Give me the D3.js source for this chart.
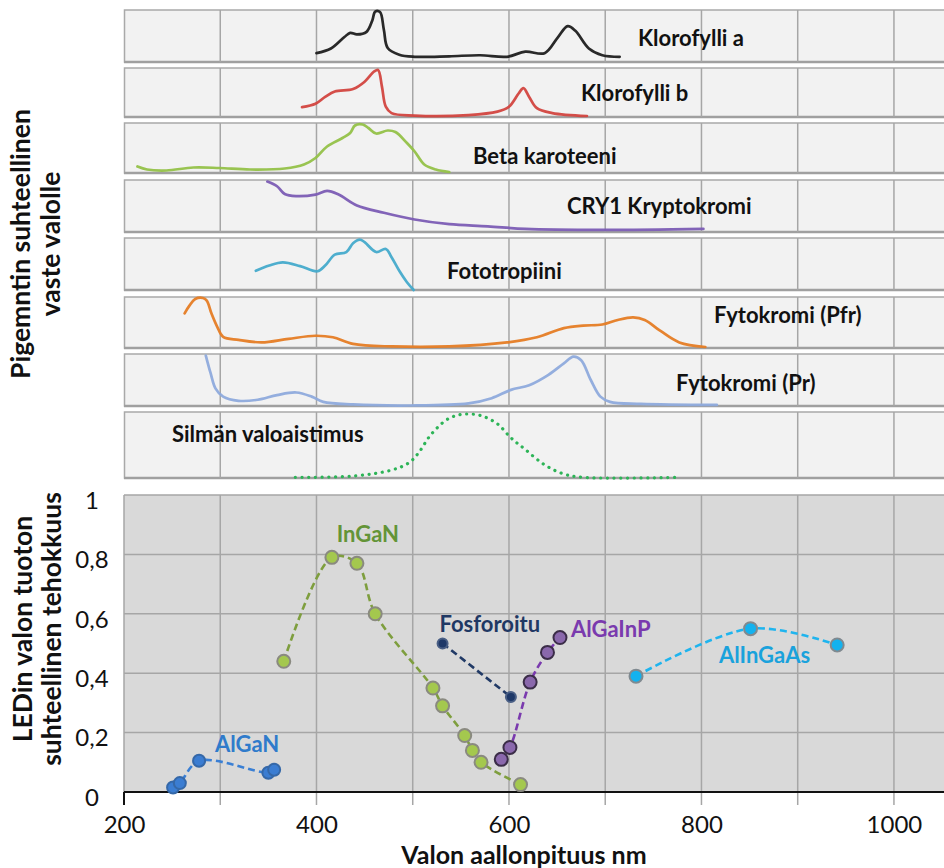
<!DOCTYPE html>
<html>
<head>
<meta charset="utf-8">
<script src="https://cdn.jsdelivr.net/npm/d3@7"></script>
<style>
  body { margin: 0; background: #fff; }
  svg { display: block; font-family: Lato, "Open Sans", sans-serif; }
</style>
</head>
<body>
<svg id="chart" width="944" height="868"></svg>
<script>
// ---- Pigment response spectra: [wavelength nm, relative response 0..1] ----
const klorofylliA = [[400,0.17],[415,0.26],[429,0.48],[435,0.56],[442,0.53],[452,0.58],[458,0.8],[461,0.97],[466,0.96],[470,0.62],[474,0.27],[486,0.14],[502,0.1],[538,0.11],[570,0.13],[598,0.1],[617,0.2],[637,0.17],[651,0.48],[661,0.69],[669,0.6],[683,0.26],[697,0.13],[715,0.1]];
const klorofylliB = [[385,0.2],[399,0.27],[409,0.41],[419,0.52],[438,0.57],[450,0.72],[460,0.93],[464,0.96],[468,0.62],[472,0.21],[478,0.08],[502,0.03],[558,0.04],[588,0.11],[600,0.21],[610,0.48],[615,0.59],[621,0.41],[629,0.18],[645,0.08],[681,0.02]];
const betaKaroteeni = [[214,0.13],[224,0.07],[244,0.05],[272,0.11],[299,0.1],[331,0.07],[367,0.09],[387,0.17],[399,0.3],[411,0.53],[427,0.7],[435,0.8],[440,0.95],[448,0.97],[454,0.9],[462,0.79],[474,0.85],[482,0.82],[494,0.6],[502,0.43],[512,0.17],[524,0.07],[538,0.02]];
const cry1 = [[349,0.97],[359,0.88],[367,0.73],[379,0.69],[399,0.72],[411,0.79],[423,0.72],[442,0.51],[470,0.37],[502,0.24],[538,0.15],[578,0.11],[617,0.06],[697,0.04],[802,0.06]];
const fototropiini = [[337,0.37],[351,0.47],[365,0.53],[383,0.46],[401,0.36],[409,0.47],[419,0.68],[431,0.73],[438,0.9],[445,0.97],[450,0.92],[462,0.73],[472,0.79],[478,0.63],[486,0.37],[494,0.15],[501,0.0]];
const fytokromiPfr = [[263,0.68],[268,0.83],[274,0.96],[282,0.98],[286,0.93],[291,0.67],[297,0.41],[303,0.22],[319,0.16],[343,0.11],[371,0.18],[399,0.24],[417,0.21],[438,0.08],[478,0.03],[538,0.03],[598,0.11],[629,0.21],[657,0.39],[677,0.44],[697,0.46],[713,0.55],[729,0.6],[741,0.55],[757,0.34],[777,0.11],[804,0.02]];
const fytokromiPr = [[285,0.97],[290,0.63],[295,0.34],[303,0.18],[319,0.1],[339,0.12],[359,0.21],[379,0.26],[395,0.18],[407,0.08],[438,0.03],[498,0.01],[558,0.05],[582,0.15],[602,0.31],[621,0.4],[641,0.6],[657,0.82],[667,0.95],[675,0.88],[685,0.5],[695,0.18],[705,0.08],[737,0.04],[816,0.02]];
const silmanValoaistimus = [[378,0.01],[438,0.03],[478,0.12],[496,0.23],[506,0.38],[518,0.64],[534,0.87],[546,0.95],[558,0.97],[572,0.94],[588,0.82],[602,0.61],[617,0.43],[637,0.2],[657,0.06],[677,0.01],[778,0.01]];

const pigmentNames = ["Klorofylli a","Klorofylli b","Beta karoteeni","CRY1 Kryptokromi","Fototropiini","Fytokromi (Pfr)","Fytokromi (Pr)","Silmän valoaistimus"];
const pigmentSpectra = [klorofylliA, klorofylliB, betaKaroteeni, cry1, fototropiini, fytokromiPfr, fytokromiPr, silmanValoaistimus];

// ---- LED relative efficiency: [wavelength nm, efficiency] ----
const ledAlGaN = [[251,0.015],[258,0.03],[278,0.105],[350,0.065],[356,0.075]];
const ledInGaN = [[366,0.44],[416,0.79],[442,0.77],[461,0.60],[521,0.35],[531,0.29],[554,0.19],[562,0.14],[571,0.10],[612,0.025]];
const ledFosforoitu = [[531,0.50],[602,0.32]];
const ledAlGaInP = [[592,0.11],[601,0.15],[622,0.37],[640,0.47],[653,0.52]];
const ledAlInGaAs = [[732,0.39],[851,0.55],[941,0.495]];

const ledNames = ["AlGaN","InGaN","Fosforoitu","AlGaInP","AlInGaAs"];
const ledSeries = [ledAlGaN, ledInGaN, ledFosforoitu, ledAlGaInP, ledAlInGaAs];

// ---- Axis ticks ----
const xTickLabels = [200, 400, 600, 800, 1000];
const gridWavelengths = [300, 400, 500, 600, 700, 800, 900, 1000];
const yTickValues = [0, 0.2, 0.4, 0.6, 0.8, 1];

// ---- Styling and layout ----
const pigmentStyles = [
  { color: "#1e1e1e" },
  { color: "#d2443f" },
  { color: "#93c148" },
  { color: "#7b5cb4" },
  { color: "#44aacb" },
  { color: "#e57c24" },
  { color: "#8eaadc" },
  { color: "#2db457", dotted: true }
];
// strip bands [top, bottom] and label [x px, baseline offset from top]
const stripBands = [[10,62],[68,117],[123,173],[180,232],[238,290],[297,348],[354,406],[412,478]];
const pigmentLabelPos = [[638,36],[581,33],[473,41],[567,34],[447,41],[714,26],[676,37],[172,30]];

const ledStyles = [
  { line: "#3a7fd4", fill: "#3b7dd2", stroke: "#3568a8", label: "#2f7bcb", r: 6 },
  { line: "#7e9e3e", fill: "#a4c84e", stroke: "#8a8a80", label: "#639437", r: 6.5 },
  { line: "#213a66", fill: "#1e3868", stroke: "#4a5f85", label: "#1f3864", r: 5 },
  { line: "#7a3aae", fill: "#8a68ac", stroke: "#3b2d48", label: "#7a3aae", r: 6.5 },
  { line: "#1fb4ee", fill: "#13b2ef", stroke: "#808a90", label: "#1aa2dc", r: 6.5 }
];
// label anchors in data units [nm, efficiency] (text start, baseline)
const ledLabelPos = [[294.5,0.134],[421,0.841],[527.8,0.539],[664.4,0.522],[818.2,0.435]];

const svg = d3.select("#chart");
const W = 944;
const plotLeft = 124;
const x = d3.scaleLinear().domain([200, 1052]).range([plotLeft, W]);

// ---------- Upper strips: pigment spectra ----------
const strips = svg.append("g");
stripBands.forEach(([top, bottom], i) => {
  const g = strips.append("g");
  g.append("rect")
    .attr("x", plotLeft + 0.5).attr("y", top)
    .attr("width", W - plotLeft + 5).attr("height", bottom - top)
    .attr("fill", "#f2f2f2").attr("stroke", "#a9a9a9").attr("stroke-width", 1.5);
  g.append("line")
    .attr("x1", plotLeft).attr("x2", W).attr("y1", bottom).attr("y2", bottom)
    .attr("stroke", "#a0a0a0").attr("stroke-width", 2.5);
  g.selectAll("line.v").data(gridWavelengths).join("line")
    .attr("class", "v")
    .attr("x1", d => x(d)).attr("x2", d => x(d))
    .attr("y1", top).attr("y2", bottom)
    .attr("stroke", "#a6a6a6").attr("stroke-width", 1.5);

  const y = d3.scaleLinear().domain([0, 1]).range([bottom, top]);
  const st = pigmentStyles[i];
  const line = d3.line().x(d => x(d[0])).y(d => y(d[1])).curve(d3.curveCatmullRom.alpha(0.5));
  const path = g.append("path")
    .datum(pigmentSpectra[i])
    .attr("d", line)
    .attr("fill", "none")
    .attr("stroke", st.color)
    .attr("stroke-linejoin", "round");
  if (st.dotted) {
    path.attr("stroke-width", 3.2).attr("stroke-dasharray", "0.1,6.6").attr("stroke-linecap", "round");
  } else {
    path.attr("stroke-width", 2.7).attr("stroke-linecap", "round").attr("opacity", 0.95);
  }

  g.append("text")
    .attr("x", pigmentLabelPos[i][0])
    .attr("y", top + pigmentLabelPos[i][1])
    .attr("font-size", 22).attr("font-weight", 700).attr("fill", "#111")
    .text(pigmentNames[i]);
});

// ---------- Lower plot: LED efficiency ----------
const yL = d3.scaleLinear().domain([0, 1]).range([792, 495]);
const lower = svg.append("g");
lower.append("rect")
  .attr("x", plotLeft).attr("y", yL(1))
  .attr("width", W - plotLeft).attr("height", yL(0) - yL(1))
  .attr("fill", "#d9d9d9");
lower.selectAll("line.h").data(yTickValues.filter(v => v > 0)).join("line")
  .attr("class", "h")
  .attr("x1", plotLeft).attr("x2", W)
  .attr("y1", d => yL(d)).attr("y2", d => yL(d))
  .attr("stroke", "#a6a6a6").attr("stroke-width", 1.5);
lower.selectAll("line.v").data(gridWavelengths).join("line")
  .attr("class", "v")
  .attr("x1", d => x(d)).attr("x2", d => x(d))
  .attr("y1", yL(1)).attr("y2", yL(0) + 13)
  .attr("stroke", "#a6a6a6").attr("stroke-width", 1.5);
lower.append("line")
  .attr("x1", plotLeft).attr("x2", plotLeft).attr("y1", yL(1)).attr("y2", yL(0))
  .attr("stroke", "#a6a6a6").attr("stroke-width", 1.5);
lower.append("line")
  .attr("x1", plotLeft).attr("x2", W).attr("y1", yL(0)).attr("y2", yL(0))
  .attr("stroke", "#111").attr("stroke-width", 2.2);
lower.append("line")
  .attr("x1", plotLeft).attr("x2", plotLeft).attr("y1", yL(0)).attr("y2", yL(0) + 13)
  .attr("stroke", "#111").attr("stroke-width", 2);

// axes (labels only)
const commaFmt = d3.formatLocale({ decimal: ",", thousands: " ", grouping: [3], currency: ["", ""] }).format("~g");
const xAxis = lower.append("g")
  .attr("transform", `translate(0,${yL(0)})`)
  .call(d3.axisBottom(x).tickValues(xTickLabels).tickSize(0).tickPadding(24).tickFormat(d3.format("d")));
xAxis.select(".domain").remove();
xAxis.selectAll("text").attr("font-size", 24).attr("fill", "#111").attr("font-family", "Lato, sans-serif");

const yAxis = lower.append("g")
  .attr("transform", `translate(${plotLeft},0)`)
  .call(d3.axisLeft(yL).tickValues(yTickValues).tickSize(0).tickFormat(commaFmt));
yAxis.select(".domain").remove();
yAxis.selectAll("text")
  .attr("x", 92 - plotLeft).attr("dy", "0.55em")
  .attr("text-anchor", "middle")
  .attr("font-size", 24).attr("fill", "#111").attr("font-family", "Lato, sans-serif");

// series
ledSeries.forEach((pts, i) => {
  const st = ledStyles[i];
  const line = d3.line().x(d => x(d[0])).y(d => yL(d[1])).curve(d3.curveCatmullRom.alpha(0.5));
  lower.append("path")
    .datum(pts)
    .attr("d", line)
    .attr("fill", "none")
    .attr("stroke", st.line)
    .attr("stroke-width", 2.6)
    .attr("stroke-dasharray", "7,4");
});
ledSeries.forEach((pts, i) => {
  const st = ledStyles[i];
  lower.append("g").selectAll("circle").data(pts).join("circle")
    .attr("cx", d => x(d[0])).attr("cy", d => yL(d[1]))
    .attr("r", st.r)
    .attr("fill", st.fill)
    .attr("stroke", st.stroke)
    .attr("stroke-width", 2);
  lower.append("text")
    .attr("x", x(ledLabelPos[i][0]))
    .attr("y", yL(ledLabelPos[i][1]))
    .attr("font-size", 22).attr("font-weight", 700)
    .attr("fill", st.label)
    .text(ledNames[i]);
});

// ---------- Axis titles ----------
svg.append("text")
  .attr("x", 524).attr("y", 864)
  .attr("text-anchor", "middle")
  .attr("font-size", 25).attr("font-weight", 700).attr("fill", "#111")
  .text("Valon aallonpituus nm");

function verticalTitle(lines, cx, cy, gap) {
  const t = svg.append("text")
    .attr("transform", `translate(${cx},${cy}) rotate(-90)`)
    .attr("text-anchor", "middle")
    .attr("font-size", 26.5).attr("font-weight", 700).attr("fill", "#111");
  lines.forEach((s, k) => {
    t.append("tspan").attr("x", 0).attr("y", k * gap).text(s);
  });
}
verticalTitle(["Pigemntin suhteellinen", "vaste valolle"], 29.5, 244, 30);
verticalTitle(["LEDin valon tuoton", "suhteellinen tehokkuus"], 31.5, 629, 29);
</script>
</body>
</html>
